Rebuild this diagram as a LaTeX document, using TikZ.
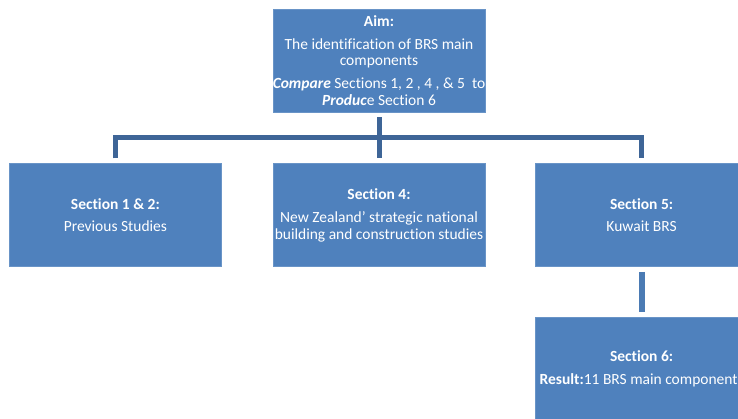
\documentclass[tikz,border=0pt]{standalone}
\usepackage{fontspec}
\setmainfont{Carlito}[Ligatures=NoCommon]
\usetikzlibrary{positioning,calc}
\definecolor{boxblue}{RGB}{79,129,189}
\definecolor{linkblue}{RGB}{62,101,151}
\tikzset{
  secbox/.style = {
    fill=boxblue, draw=boxblue!85!white, line width=0.6pt,
    text=white, align=center, inner sep=0pt,
    minimum width=212pt, minimum height=103pt,
    font=\fontsize{15.5}{16.8}\selectfont
  },
  link/.style = {draw=linkblue, line width=5pt, shorten <=5pt, shorten >=5pt}
}

\begin{document}
\begin{tikzpicture}[x=1pt,y=1pt]
  \useasboundingbox (0,0) rectangle (738,-418);
  \clip (0,0) rectangle (738,-418);
  % top box
  \node[secbox] (aim) at (379,-60.5) {\textbf{Aim:}\\[6pt]
    The identification of BRS main\\ components\\[6pt]
    \makebox[0pt]{\textbf{\textit{Compare}} Sections 1, 2 , 4 , \& 5\ \ to}\\
    \textbf{\textit{Produc}}e Section 6};
  % second row
  \node[secbox,below=51pt of aim] (sec4) {\textbf{Section 4:}\\[6pt]
    New Zealand\symbol{"0027} strategic national\\ building and construction studies};
  \node[secbox,left=51pt of sec4] (sec12) {\textbf{Section 1 \& 2:}\\[6pt]
    Previous Studies};
  \node[secbox,right=50pt of sec4] (sec5) {\textbf{Section 5:}\\[6pt]
    Kuwait BRS};
  % result
  \node[secbox,below=50pt of sec5] (sec6) {\textbf{Section 6:}\\[6pt]
    \textbf{Result:}11 BRS main components};
  % connectors
  \coordinate (fork) at ($(aim.south)!0.5!(sec4.north)$);
  \draw[link] (aim.south) -- (sec4.north);
  \draw[link] (sec12.north) |- (fork) -| (sec5.north);
  \draw[link,draw=boxblue!95!black,line width=6pt] (sec5.south) -- (sec6.north);
\end{tikzpicture}
\end{document}
